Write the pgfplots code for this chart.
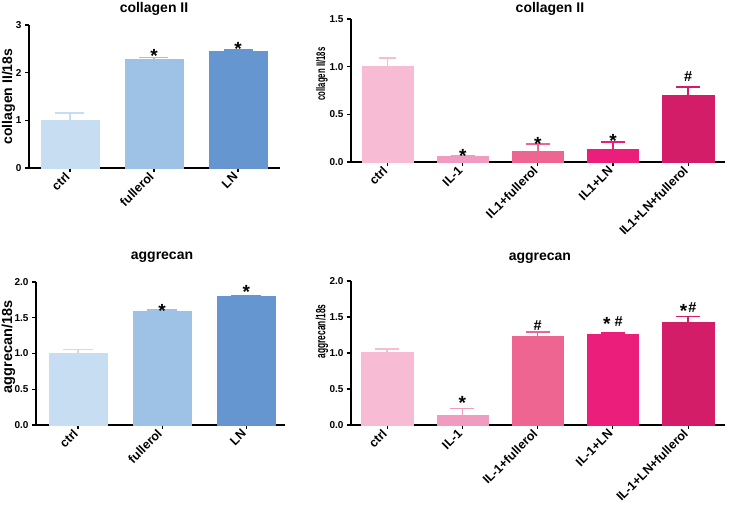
\documentclass[border=0pt]{standalone}
\usepackage{fontspec}
\setmainfont{Liberation Sans}
\usepackage{graphicx}
\usepackage{pgfplots}
\pgfplotsset{compat=1.18}
\definecolor{b1}{HTML}{C7DDF1}
\definecolor{b2}{HTML}{9EC2E6}
\definecolor{b3}{HTML}{6596CF}
\definecolor{p1}{HTML}{F8BBD4}
\definecolor{p2}{HTML}{F09BC0}
\definecolor{p3}{HTML}{EF6592}
\definecolor{p4}{HTML}{EC1E7C}
\definecolor{p5}{HTML}{D31D68}
\newcommand{\ann}{\fontsize{14.5}{15}\selectfont\bfseries}
\newcommand{\st}{\raisebox{-4.5pt}{\fontsize{19}{19}\selectfont\bfseries *}}
\pgfplotsset{
  prism/.style={
    scale only axis,
    axis lines*=left,
    axis line style={line width=1.4pt,black,-},
    enlargelimits=false,
    ymin=0,
    clip=false,
    tick align=outside,
    major tick length=4pt,
    every tick/.style={black,line width=1.2pt},
    /pgf/number format/assume math mode=true,
    yticklabel style={font=\fontsize{10}{12}\selectfont\bfseries},
    xticklabel style={rotate=45,anchor=east,font=\fontsize{12.5}{14}\selectfont\bfseries},
    every axis title shift=0pt,
    title style={font=\fontsize{14}{16}\selectfont\bfseries,anchor=center},
  },
  bar/.style args={#1/#2/#3}{ybar,bar shift=0pt,bar width=#2,fill=#1,draw=#1,line width=0.4pt,
    error bars/y dir=plus,error bars/y explicit,
    error bars/error bar style={line width=1.5pt,draw=#1},
    error bars/error mark=|,
    error bars/error mark options={line width=1.5pt,draw=#1,mark size=#3}},
}
\begin{document}
\begin{tikzpicture}
\path[use as bounding box] (0,0) rectangle (729pt,504pt);

% ---------- top left ----------
\begin{axis}[prism,
  at={(29pt,336pt)},anchor=south west,
  width=251pt,height=143pt,
  xmin=-0.488,xmax=2.5,ymax=3,
  ytick={0,1,2,3},
  xtick={0,1,2},xticklabels={ctrl,fullerol,LN},
  title={collagen II},title style={at={(axis description cs:0.498,1.115)},anchor=center},
  ylabel={collagen II/18s},
  ylabel style={at={(axis description cs:-0.082,0.5)},anchor=center,font=\fontsize{14}{16}\selectfont\bfseries},
]
\addplot[bar={b1/0.69/14.5pt}] coordinates {(0,1.01) +- (0,0.14)};
\addplot[bar={b2/0.69/14.5pt}] coordinates {(1,2.28) +- (0,0.04)};
\addplot[bar={b3/0.69/14.5pt}] coordinates {(2,2.46) +- (0,0.015)};
\node[anchor=base,inner sep=0pt,yshift=-0.7pt] at (axis cs:1,2.32) {\st};
\node[anchor=base,inner sep=0pt,yshift=-0.7pt] at (axis cs:2,2.475) {\st};
\end{axis}

% ---------- top right ----------
\begin{axis}[prism,
  at={(351pt,342pt)},anchor=south west,
  width=374pt,height=143pt,
  xmin=-0.487,xmax=4.49,ymax=1.5,
  ytick={0,0.5,1,1.5},
  yticklabel style={/pgf/number format/.cd,fixed,fixed zerofill,precision=1},
  xtick={0,1,2,3,4},xticklabels={ctrl,IL-1,IL1+fullerol,IL1+LN,IL1+LN+fullerol},
  title={collagen II},title style={at={(axis description cs:0.532,1.073)},anchor=center},
  ylabel={\scalebox{0.62}[1]{collagen II/18s}},
  ylabel style={at={(axis description cs:-0.078,0.615)},anchor=center,font=\fontsize{12.5}{14}\selectfont\bfseries},
]
\addplot[bar={p1/0.68/8.5pt}] coordinates {(0,1.01) +- (0,0.08)};
\addplot[bar={p2/0.68/12pt}] coordinates {(1,0.06) +- (0,0.005)};
\addplot[bar={p3/0.68/12pt}] coordinates {(2,0.11) +- (0,0.08)};
\addplot[bar={p4/0.68/12pt}] coordinates {(3,0.13) +- (0,0.08)};
\addplot[bar={p5/0.68/12pt}] coordinates {(4,0.70) +- (0,0.085)};
\node[anchor=base,inner sep=0pt,yshift=-1.7pt] at (axis cs:1,0.065) {\st};
\node[anchor=base,inner sep=0pt,yshift=-1.7pt] at (axis cs:2,0.19) {\st};
\node[anchor=base,inner sep=0pt,yshift=-0.7pt] at (axis cs:3,0.21) {\st};
\node[font=\ann,anchor=base,inner sep=0pt,yshift=6pt] at (axis cs:4,0.785) {\#};
\end{axis}

% ---------- bottom left ----------
\begin{axis}[prism,
  at={(36pt,79pt)},anchor=south west,
  width=249pt,height=143pt,
  xmin=-0.5,xmax=2.46,ymax=2,
  ytick={0,0.5,1,1.5,2},
  yticklabel style={/pgf/number format/.cd,fixed,fixed zerofill,precision=1},
  xtick={0,1,2},xticklabels={ctrl,fullerol,LN},
  title={aggrecan},title style={at={(axis description cs:0.506,1.175)},anchor=center},
  ylabel={aggrecan/18s},
  ylabel style={at={(axis description cs:-0.111,0.545)},anchor=center,font=\fontsize{14.5}{16}\selectfont\bfseries},
]
\addplot[bar={b1/0.69/15pt}] coordinates {(0,1.01) +- (0,0.045)};
\addplot[bar={b2/0.69/15pt}] coordinates {(1,1.595) +- (0,0.015)};
\addplot[bar={b3/0.69/15pt}] coordinates {(2,1.80) +- (0,0.01)};
\node[anchor=base,inner sep=0pt,yshift=-2.7pt] at (axis cs:1,1.61) {\st};
\node[anchor=base,inner sep=0pt,yshift=1.3pt] at (axis cs:2,1.81) {\st};
\end{axis}

% ---------- bottom right ----------
\begin{axis}[prism,
  at={(351pt,79pt)},anchor=south west,
  width=374pt,height=144pt,
  xmin=-0.48,xmax=4.49,ymax=2,
  ytick={0,0.5,1,1.5,2},
  yticklabel style={/pgf/number format/.cd,fixed,fixed zerofill,precision=1},
  xtick={0,1,2,3,4},xticklabels={ctrl,IL-1,IL-1+fullerol,IL-1+LN,IL-1+LN+fullerol},
  title={aggrecan},title style={at={(axis description cs:0.505,1.16)},anchor=center},
  ylabel={\scalebox{0.62}[1]{aggrecan/18s}},
  ylabel style={at={(axis description cs:-0.078,0.65)},anchor=center,font=\fontsize{13.5}{15}\selectfont\bfseries},
]
\addplot[bar={p1/0.68/12pt}] coordinates {(0,1.005) +- (0,0.05)};
\addplot[bar={p2/0.68/12pt}] coordinates {(1,0.13) +- (0,0.10)};
\addplot[bar={p3/0.68/12pt}] coordinates {(2,1.23) +- (0,0.06)};
\addplot[bar={p4/0.68/12pt}] coordinates {(3,1.265) +- (0,0.01)};
\addplot[bar={p5/0.68/12pt}] coordinates {(4,1.43) +- (0,0.075)};
\node[anchor=base,inner sep=0pt,yshift=3pt] at (axis cs:1,0.23) {\st};
\node[font=\ann,anchor=base,inner sep=0pt,yshift=2pt] at (axis cs:2,1.29) {\#};
\node[font=\ann,anchor=base,inner sep=0pt,yshift=7pt] at (axis cs:3,1.275) {\st\hspace{4pt}\#};
\node[font=\ann,anchor=base,inner sep=0pt,yshift=4pt] at (axis cs:4,1.505) {\st\hspace{1pt}\#};
\end{axis}
\end{tikzpicture}
\end{document}
